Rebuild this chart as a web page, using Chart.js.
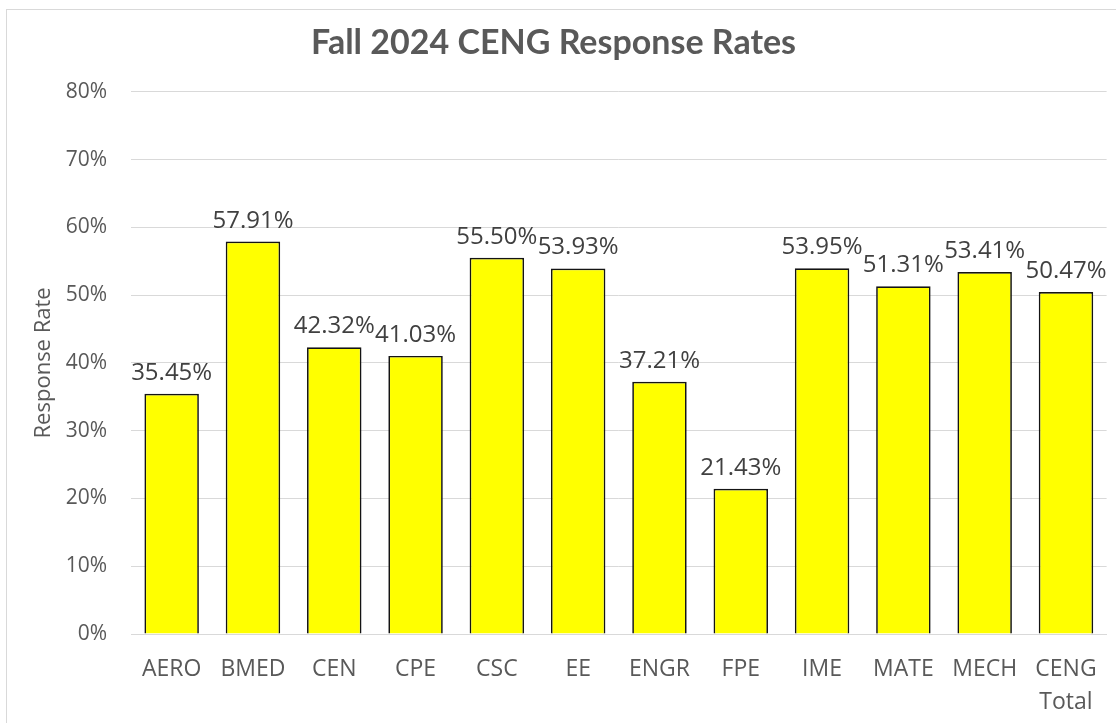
<!DOCTYPE html>
<html>
<head>
<meta charset="utf-8">
<script src="https://cdn.jsdelivr.net/npm/chart.js@4"></script>
<style>
  html, body { margin: 0; padding: 0; background: #fff; }
  #wrap { width: 1116px; height: 723px; position: relative; }
</style>
</head>
<body>
<div id="wrap"><canvas id="rates"></canvas></div>
<script>
// program codes along the x axis
const programs = ['AERO', 'BMED', 'CEN', 'CPE', 'CSC', 'EE', 'ENGR', 'FPE', 'IME', 'MATE', 'MECH', ['CENG', 'Total']];
// response rate in percent
const rates = [35.45, 57.91, 42.32, 41.03, 55.50, 53.93, 37.21, 21.43, 53.95, 51.31, 53.41, 50.47];
const yTicks = [0, 10, 20, 30, 40, 50, 60, 70, 80];

const FONT = "'Open Sans', 'Liberation Sans', sans-serif";
const TITLE_FONT = "Lato, 'Open Sans', sans-serif";

// light frame round the whole chart, like the spreadsheet export
const framePlugin = {
  id: 'frame',
  beforeDraw(chart) {
    const ctx = chart.ctx;
    ctx.save();
    ctx.strokeStyle = '#d9d9d9';
    ctx.lineWidth = 1;
    ctx.strokeRect(6.5, 9.5, chart.width - 5, chart.height);
    ctx.restore();
  }
};

// value labels above each bar
const barLabels = {
  id: 'barLabels',
  afterDatasetsDraw(chart) {
    const ctx = chart.ctx;
    const meta = chart.getDatasetMeta(0);
    ctx.save();
    ctx.font = '24px ' + FONT;
    ctx.fillStyle = '#404040';
    ctx.textAlign = 'center';
    ctx.textBaseline = 'alphabetic';
    meta.data.forEach((bar, i) => {
      ctx.fillText(rates[i].toFixed(2) + '%', bar.x, bar.y - 14);
    });
    ctx.restore();
  }
};

new Chart(document.getElementById('rates'), {
  type: 'bar',
  data: {
    labels: programs,
    datasets: [{
      data: rates,
      backgroundColor: '#ffff00',
      borderColor: '#141414',
      borderWidth: 1.7,
      categoryPercentage: 1,
      barPercentage: 0.67
    }]
  },
  options: {
    responsive: true,
    maintainAspectRatio: false,
    animation: false,
    layout: { padding: { top: 0, right: 9, bottom: 0, left: 0 } },
    plugins: {
      legend: { display: false },
      tooltip: { enabled: false },
      title: {
        display: true,
        text: 'Fall 2024 CENG Response Rates',
        color: '#595959',
        font: { family: TITLE_FONT, size: 34, weight: 'bold' },
        padding: { top: 23, bottom: 28 }
      }
    },
    scales: {
      x: {
        grid: { display: false, drawTicks: false },
        border: { color: '#d9d9d9', width: 1 },
        ticks: {
          color: '#595959',
          font: { family: FONT, size: 23, lineHeight: 1.43 },
          padding: 19,
          maxRotation: 0,
          autoSkip: false
        },
        afterFit(scale) { scale.height = 89; }
      },
      y: {
        min: 0,
        max: 80,
        afterBuildTicks(scale) { scale.ticks = yTicks.map(v => ({ value: v })); },
        grid: { color: '#d9d9d9', drawTicks: false },
        border: { display: false },
        ticks: {
          color: '#595959',
          font: { family: FONT, size: 21 },
          padding: 24,
          callback: v => v + '%'
        },
        title: {
          display: true,
          text: 'Response Rate',
          color: '#595959',
          font: { family: FONT, size: 22 },
          padding: { top: 31, bottom: 0 }
        },
        afterFit(scale) { scale.width = 131; }
      }
    }
  },
  plugins: [framePlugin, barLabels]
});
</script>
</body>
</html>
